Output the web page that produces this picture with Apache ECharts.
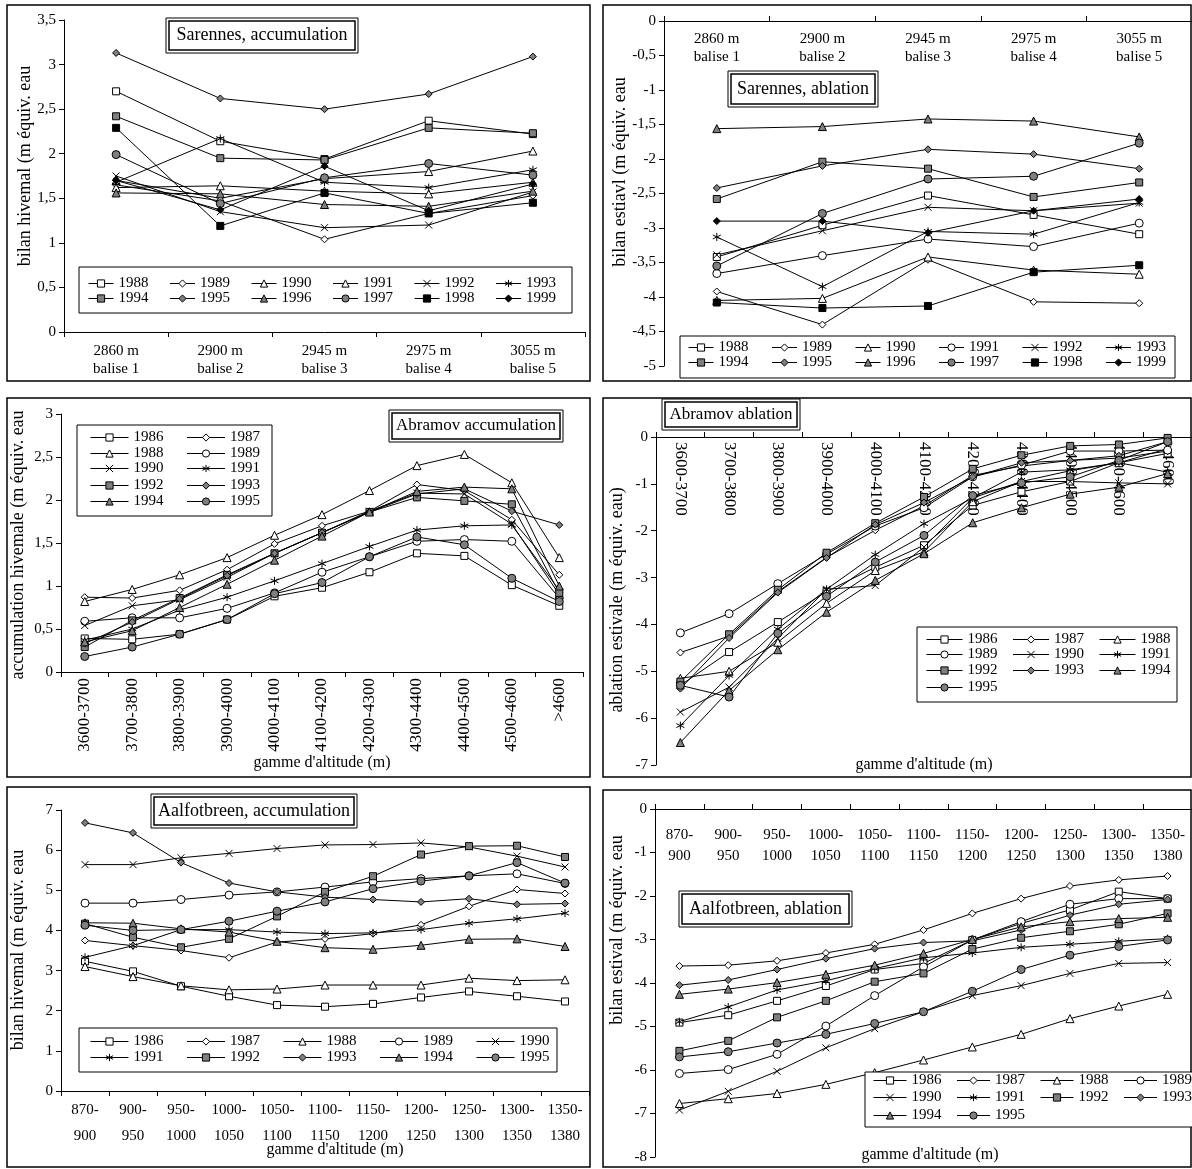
<!DOCTYPE html>
<html><head><meta charset="utf-8">
<script src="https://cdn.jsdelivr.net/npm/echarts@6/dist/echarts.min.js"></script>
<style>html,body{margin:0;padding:0;background:#fff}#c{width:1192px;height:1169px}</style>
</head><body><div id="c"></div><script>
// ---------- DATA ----------
const sarCats = ['2860 m\nbalise 1','2900 m\nbalise 2','2945 m\nbalise 3','2975 m\nbalise 4','3055 m\nbalise 5'];
const sarYears = ['1988','1989','1990','1991','1992','1993','1994','1995','1996','1997','1998','1999'];
const sarAccValues = [
  [2.70, 2.14, 1.94, 2.37, 2.22],
  [1.65, 1.47, 1.04, 1.33, 1.53],
  [1.62, 1.64, 1.58, 1.55, 1.68],
  [1.70, 1.50, 1.72, 1.80, 2.03],
  [1.75, 1.35, 1.17, 1.20, 1.57],
  [1.68, 2.17, 1.68, 1.62, 1.82],
  [2.42, 1.95, 1.93, 2.29, 2.23],
  [3.13, 2.62, 2.50, 2.67, 3.09],
  [1.56, 1.55, 1.43, 1.41, 1.58],
  [1.99, 1.44, 1.73, 1.89, 1.76],
  [2.29, 1.19, 1.56, 1.33, 1.45],
  [1.70, 1.37, 1.86, 1.36, 1.66]
];
const sarAblValues = [
  [-3.42, -2.96, -2.53, -2.81, -3.09],
  [-3.92, -4.40, -3.46, -4.07, -4.09],
  [-4.05, -4.02, -3.42, -3.61, -3.67],
  [-3.66, -3.40, -3.16, -3.27, -2.93],
  [-3.39, -3.04, -2.70, -2.75, -2.64],
  [-3.13, -3.85, -3.05, -3.09, -2.63],
  [-2.58, -2.04, -2.14, -2.55, -2.34],
  [-2.42, -2.10, -1.86, -1.93, -2.14],
  [-1.56, -1.53, -1.42, -1.45, -1.68],
  [-3.55, -2.79, -2.29, -2.25, -1.77],
  [-4.08, -4.16, -4.13, -3.64, -3.54],
  [-2.90, -2.90, -3.07, -2.75, -2.58]
];
const abrCats = ['3600-3700','3700-3800','3800-3900','3900-4000','4000-4100','4100-4200','4200-4300','4300-4400','4400-4500','4500-4600','>4600'];
const nYears = ['1986','1987','1988','1989','1990','1991','1992','1993','1994','1995'];
const abrAccValues = [
  [0.39, 0.38, 0.44, 0.61, 0.88, 0.98, 1.16, 1.38, 1.35, 1.01, 0.77],
  [0.87, 0.86, 0.95, 1.19, 1.49, 1.70, 1.87, 2.18, 2.11, 1.77, 1.13],
  [0.82, 0.96, 1.13, 1.33, 1.59, 1.83, 2.11, 2.40, 2.53, 2.20, 1.33],
  [0.59, 0.63, 0.63, 0.74, 0.92, 1.16, 1.34, 1.52, 1.54, 1.52, 0.86],
  [0.54, 0.77, 0.84, 1.10, 1.38, 1.62, 1.87, 2.08, 2.07, 1.72, 0.90],
  [0.37, 0.50, 0.72, 0.87, 1.06, 1.26, 1.46, 1.65, 1.70, 1.71, 0.95],
  [0.29, 0.60, 0.86, 1.13, 1.38, 1.62, 1.86, 2.03, 1.99, 1.95, 0.92],
  [0.33, 0.58, 0.85, 1.12, 1.38, 1.62, 1.86, 2.07, 2.13, 1.87, 1.71],
  [0.35, 0.48, 0.75, 1.02, 1.30, 1.58, 1.86, 2.10, 2.15, 2.13, 1.00],
  [0.18, 0.29, 0.44, 0.61, 0.91, 1.04, 1.34, 1.57, 1.48, 1.09, 0.82]
];
const abrAblValues = [
  [-5.30, -4.59, -3.95, -3.30, -2.78, -2.31, -1.46, -1.17, -0.95, -0.55, -0.35],
  [-4.60, -4.25, -3.30, -2.57, -1.99, -1.47, -0.82, -0.62, -0.50, -0.45, -0.30],
  [-5.15, -5.00, -4.38, -3.55, -2.85, -2.45, -1.38, -0.95, -0.72, -0.55, -0.25],
  [-4.18, -3.77, -3.13, -2.50, -1.90, -1.51, -0.85, -0.60, -0.30, -0.30, -0.28],
  [-5.87, -5.34, -4.30, -3.25, -3.17, -2.35, -1.30, -0.95, -0.95, -0.98, -1.00],
  [-6.16, -5.09, -4.10, -3.25, -2.51, -1.85, -1.30, -0.75, -0.70, -0.55, -0.75],
  [-5.22, -4.21, -3.26, -2.47, -1.84, -1.28, -0.68, -0.39, -0.19, -0.16, -0.02],
  [-5.37, -4.29, -3.32, -2.58, -1.87, -1.40, -0.85, -0.55, -0.50, -0.40, -0.10],
  [-6.52, -5.41, -4.54, -3.74, -3.06, -2.49, -1.83, -1.51, -1.22, -1.07, -0.78],
  [-5.30, -5.55, -4.19, -3.40, -2.67, -2.10, -1.25, -0.98, -0.85, -0.50, -0.10]
];
const aalCats = ['870-\n900','900-\n950','950-\n1000','1000-\n1050','1050-\n1100','1100-\n1150','1150-\n1200','1200-\n1250','1250-\n1300','1300-\n1350','1350-\n1380'];
const aalAccValues = [
  [3.23, 2.98, 2.61, 2.36, 2.14, 2.10, 2.17, 2.33, 2.48, 2.36, 2.23],
  [3.75, 3.62, 3.50, 3.32, 3.71, 3.79, 3.92, 4.14, 4.60, 5.02, 4.92],
  [3.10, 2.85, 2.62, 2.52, 2.54, 2.64, 2.64, 2.64, 2.81, 2.75, 2.77],
  [4.68, 4.68, 4.77, 4.88, 4.96, 5.08, 5.21, 5.29, 5.36, 5.41, 5.17],
  [5.64, 5.64, 5.81, 5.92, 6.04, 6.13, 6.14, 6.18, 6.08, 5.85, 5.58],
  [3.33, 3.62, 4.02, 4.02, 3.96, 3.92, 3.94, 4.02, 4.18, 4.29, 4.43],
  [4.17, 3.83, 3.58, 3.79, 4.35, 4.96, 5.35, 5.89, 6.10, 6.11, 5.83],
  [6.68, 6.43, 5.69, 5.18, 4.96, 4.83, 4.77, 4.71, 4.79, 4.65, 4.67],
  [4.19, 4.18, 4.04, 3.96, 3.73, 3.57, 3.53, 3.63, 3.78, 3.79, 3.60],
  [4.13, 4.00, 4.02, 4.23, 4.48, 4.71, 5.04, 5.23, 5.36, 5.69, 5.18]
];
const aalAblValues = [
  [-4.91, -4.74, -4.41, -4.07, -3.69, -3.55, -3.01, -2.63, -2.32, -1.90, -2.06],
  [-3.61, -3.59, -3.49, -3.31, -3.11, -2.78, -2.40, -2.06, -1.77, -1.63, -1.54],
  [-6.77, -6.66, -6.54, -6.33, -6.06, -5.77, -5.47, -5.18, -4.82, -4.53, -4.26],
  [-6.08, -5.99, -5.64, -4.99, -4.29, -3.63, -3.01, -2.59, -2.19, -2.06, -2.06],
  [-6.92, -6.49, -6.03, -5.49, -5.05, -4.66, -4.29, -4.06, -3.78, -3.55, -3.53],
  [-4.89, -4.55, -4.16, -3.95, -3.67, -3.42, -3.31, -3.18, -3.11, -3.04, -2.98],
  [-5.56, -5.33, -4.79, -4.41, -3.97, -3.78, -3.22, -2.96, -2.81, -2.65, -2.40],
  [-4.05, -3.93, -3.69, -3.44, -3.21, -3.07, -3.03, -2.78, -2.44, -2.19, -2.08],
  [-4.26, -4.14, -3.99, -3.80, -3.59, -3.32, -3.00, -2.71, -2.59, -2.52, -2.49],
  [-5.70, -5.58, -5.38, -5.18, -4.93, -4.66, -4.19, -3.69, -3.36, -3.16, -3.01]
];

// ---------- STYLE ----------
const FF = '"Liberation Serif", "Times New Roman", serif';
const GRAY = '#7f7f7f';
const SX = 'path://M0,0L10,10M10,0L0,10';
const SA = 'path://M5,0L5,10M0.7,2.5L9.3,7.5M9.3,2.5L0.7,7.5';
const SIZE = {rect:7, diamond:7, triangle:8, circle:8};
SIZE[SX] = 7; SIZE[SA] = 8;
const sarAccMarks = [['rect','#fff'],['diamond','#fff'],['triangle','#fff'],['triangle','#fff'],[SX,'#fff'],[SA,'#fff'],['rect',GRAY],['diamond',GRAY],['triangle',GRAY],['circle',GRAY],['rect','#000'],['diamond','#000']];
const sarAblMarks = sarAccMarks.map((m,i)=> i===3 ? ['circle','#fff'] : m);
const nMarks = [['rect','#fff'],['diamond','#fff'],['triangle','#fff'],['circle','#fff'],[SX,'#fff'],[SA,'#fff'],['rect',GRAY],['diamond',GRAY],['triangle',GRAY],['circle',GRAY]];

const series = [];
function addSeries(p, years, values, marks){
  years.forEach((y,i)=>{
    series.push({
      name: 'p'+p+'_'+y, type:'line', xAxisIndex:p, yAxisIndex:p,
      data: values[i], symbol: marks[i][0], symbolSize: SIZE[marks[i][0]],
      showAllSymbol:true, animation:false,
      lineStyle:{color:'#000', width:1},
      itemStyle:{color:marks[i][1], borderColor:'#000', borderWidth:1},
      emphasis:{disabled:true}
    });
  });
}
addSeries(0, sarYears, sarAccValues, sarAccMarks);
addSeries(1, sarYears, sarAblValues, sarAblMarks);
addSeries(2, nYears, abrAccValues, nMarks);
addSeries(3, nYears, abrAblValues, nMarks);
addSeries(4, nYears, aalAccValues, nMarks);
addSeries(5, nYears, aalAblValues, nMarks);

const grids = [
  {left:64, top:20, width:521, height:312},
  {left:664, top:21, width:528, height:345},
  {left:61, top:414, width:522, height:258},
  {left:656, top:437, width:536, height:328},
  {left:61, top:810, width:528, height:281},
  {left:655, top:809, width:537, height:348}
];
const fmt = v => String(v).replace('.', ',');
function xAx(i, cats, pos, label){
  return {type:'category', gridIndex:i, data:cats, position:pos, boundaryGap:true,
    axisLine:{onZero:false, lineStyle:{color:'#000', width:1}},
    axisTick:{show:true, length:5, lineStyle:{color:'#000'}},
    axisLabel:Object.assign({interval:0, color:'#000', fontFamily:FF, fontSize:15}, label),
    splitLine:{show:false}};
}
function yAx(i, min, max, interval){
  return {type:'value', gridIndex:i, min, max, interval,
    axisLine:{show:true, lineStyle:{color:'#000', width:1}},
    axisTick:{show:true, length:5, lineStyle:{color:'#000'}},
    axisLabel:{color:'#000', fontFamily:FF, fontSize:15, margin:8, formatter:fmt},
    splitLine:{show:false}};
}
const xAxes = [
  xAx(0, sarCats, 'bottom', {lineHeight:18, margin:10}),
  xAx(1, sarCats, 'top', {lineHeight:18, margin:9, inside:true}),
  xAx(2, abrCats, 'bottom', {rotate:90, margin:6, fontSize:17}),
  xAx(3, abrCats, 'top', {rotate:90, margin:5, inside:true, fontSize:17}),
  xAx(4, aalCats, 'bottom', {lineHeight:26, margin:6}),
  xAx(5, aalCats, 'top', {lineHeight:21, margin:16, inside:true})
];
const yAxes = [yAx(0,0,3.5,0.5), yAx(1,-5,0,0.5), yAx(2,0,3,0.5), yAx(3,-7,0,1), yAx(4,0,7,1), yAx(5,-8,0,1)];

// legends (one component per row)
const legends = [];
function legRow(p, years, left, top, itemWidth, itemGap){
  legends.push({left, top, width:600, padding:0, itemWidth, itemHeight:9, itemGap, selectedMode:false,
    data: years.map(y=>'p'+p+'_'+y), formatter: n => n.split('_')[1],
    lineStyle:{width:1, color:'#000'}, itemStyle:{borderWidth:1, borderColor:'#000'},
    textStyle:{fontFamily:FF, fontSize:15, color:'#000'}, z:6});
}
legRow(0, sarYears.slice(0,6), 88, 276, 25, 21);
legRow(0, sarYears.slice(6), 88, 291, 25, 21);
legRow(1, sarYears.slice(0,6), 688, 340, 25, 23);
legRow(1, sarYears.slice(6), 688, 355, 25, 23);
[430,446,461,478,494].forEach((t,r)=> legRow(2, nYears.slice(r*2, r*2+2), 90, t, 38, 23));
[632,647,663,680].forEach((t,r)=> legRow(3, nYears.slice(r*3, r*3+3), 926, t, 36, 15));
[1034,1050].forEach((t,r)=> legRow(4, nYears.slice(r*5, r*5+5), 90, t, 38, 23));
[1073,1090,1108].forEach((t,r)=> legRow(5, nYears.slice(r*4, r*4+4), 873, t, 33, 15));

// graphics: frames, boxes, titles, axis names
const g = [];
function frame(x1,y1,x2,y2){ g.push({type:'rect', z:1, shape:{x:x1,y:y1,width:x2-x1,height:y2-y1}, style:{fill:null, stroke:'#000', lineWidth:1.5}, silent:true}); }
function box(x1,y1,x2,y2){ g.push({type:'rect', z:5, shape:{x:x1,y:y1,width:x2-x1,height:y2-y1}, style:{fill:'#fff', stroke:'#000', lineWidth:1}, silent:true}); }
function tbox(x1,y1,x2,y2,text,fs){
  g.push({type:'rect', z:7, shape:{x:x1,y:y1,width:x2-x1,height:y2-y1}, style:{fill:'#fff', stroke:'#000', lineWidth:1}, silent:true});
  g.push({type:'rect', z:7, shape:{x:x1+3,y:y1+3,width:x2-x1-6,height:y2-y1-6}, style:{fill:'#fff', stroke:'#000', lineWidth:1.5}, silent:true});
  g.push({type:'text', z:8, x:(x1+x2)/2, y:(y1+y2)/2, style:{text, fontFamily:'Liberation Serif', fontSize:fs, fill:'#000', align:'center', verticalAlign:'middle', textAlign:'center', textVerticalAlign:'middle'}, silent:true});
}
function label(x,y,text,rot,fs){
  g.push({type:'text', z:8, x, y, rotation: rot ? Math.PI/2 : 0, style:{text, fontFamily:'Liberation Serif', fontSize:fs, fill:'#000', align:'center', verticalAlign:'middle', textAlign:'center', textVerticalAlign:'middle'}, silent:true});
}
frame(7,5,590,381); frame(603,5,1191,381);
frame(7,398,590,777); frame(603,398,1191,777);
frame(7,787,590,1167); frame(603,790,1191,1167);
box(79,267,572,313); box(680,336,1175,378); box(77,425,272,516); box(917,627,1177,702); box(79,1028,557,1072); box(865,1072,1195,1127);
tbox(166,18,358,53,'Sarennes, accumulation',18);
tbox(728,71,878,107,'Sarennes, ablation',18);
tbox(389,410,563,442,'Abramov accumulation',17);
tbox(662,399,800,430,'Abramov ablation',17);
tbox(151,794,357,828,'Aalfotbreen, accumulation',18);
tbox(679,891,852,927,'Aalfotbreen, ablation',18);
label(25,166,'bilan hivemal (m équiv. eau',true,18);
label(620,172,'bilan estiavl (m équiv. eau',true,18);
label(18,545,'accumulation hivemale (m équiv. eau',true,18);
label(617,600,'ablation estivale (m équiv. eau)',true,18);
label(18,950,'bilan hivemal (m équiv. eau',true,18);
label(617,930,'bilan estival (m équiv. eau',true,18);
label(322,763,"gamme d'altitude (m)",false,16);
label(924,765,"gamme d'altitude (m)",false,16);
label(335,1150,"gamme d'altitude (m)",false,16);
label(930,1155,"gamme d'altitude (m)",false,16);

const chart = echarts.init(document.getElementById('c'), null, {renderer:'canvas'});
chart.setOption({
  backgroundColor:'#fff', animation:false,
  grid: grids, xAxis: xAxes, yAxis: yAxes, legend: legends, series, graphic: g
});
</script></body></html>
